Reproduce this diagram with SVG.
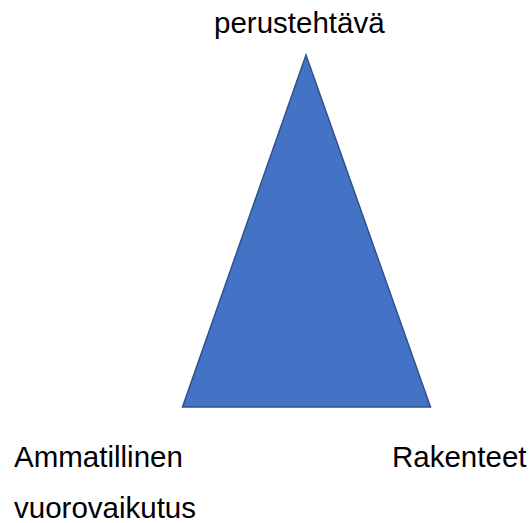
<svg xmlns="http://www.w3.org/2000/svg" width="532" height="523" viewBox="0 0 532 523">
<style>
.lbl{font-family:"Liberation Sans",Arial,sans-serif;font-size:29.5px;fill:#000}
.tri{fill:#4472C4;stroke:#2F528F;stroke-width:1.5}
</style>
<rect width="532" height="523" fill="#fff"/>
<g id="triangle"><polygon class="tri" points="306,55 182.5,407 430.5,407"/></g>
<g id="connectors"/>
<g id="top"><text class="lbl" x="214" y="33">perustehtävä</text></g>
<g id="left"><text class="lbl" x="14" y="467">Ammatillinen</text><text class="lbl" x="14" y="518">vuorovaikutus</text></g>
<g id="right"><text class="lbl" x="392" y="467">Rakenteet</text></g>
</svg>
